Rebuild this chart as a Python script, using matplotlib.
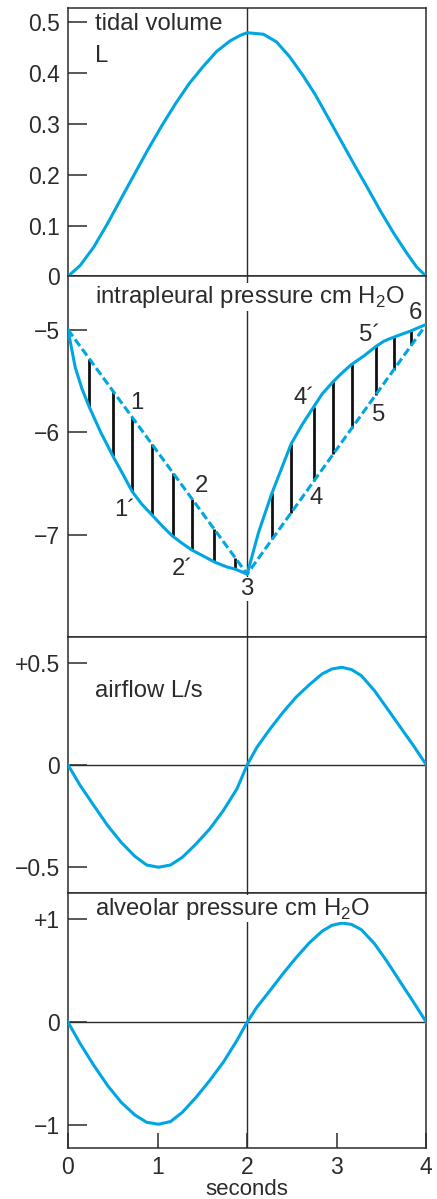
import numpy as np
import matplotlib
matplotlib.use("Agg")
import matplotlib.pyplot as plt

plt.rcParams['font.family'] = ['Liberation Sans', 'DejaVu Sans']
plt.rcParams['mathtext.fontset'] = 'custom'
plt.rcParams['mathtext.rm'] = 'Liberation Sans'
plt.rcParams['axes.unicode_minus'] = True

BLUE = '#00a6e2'
INK = '#2b2b2b'
FS = 16.5     # tick labels
FS_LAB = 17.2  # panel titles

# tidal volume, L
vol_t = [0, 0.137, 0.289, 0.442, 0.593, 0.745, 0.898, 1.050, 1.202, 1.353, 1.506, 1.658, 1.810, 1.925, 2.0,
         2.182, 2.328, 2.473, 2.619, 2.765, 2.910, 3.056, 3.201, 3.347, 3.493, 3.639, 3.785, 3.894, 4.0]
vol_v = [0, 0.0217, 0.058, 0.104, 0.153, 0.202, 0.251, 0.297, 0.340, 0.379, 0.412, 0.442, 0.463, 0.474, 0.479,
         0.476, 0.461, 0.432, 0.396, 0.356, 0.310, 0.264, 0.218, 0.173, 0.127, 0.084, 0.045, 0.018, 0]

# intrapleural pressure, cm H2O
pl_t = [0, 0.080, 0.156, 0.239, 0.365, 0.499, 0.612, 0.716, 0.822, 0.935, 1.050, 1.163, 1.278,
        1.384, 1.506, 1.640, 1.772, 1.868, 2.0,
        2.127, 2.273, 2.491, 2.619, 2.736, 2.838, 2.955, 3.056, 3.165, 3.311, 3.438, 3.529, 3.639, 3.821, 4.0]
pl_p = [-5.0, -5.365, -5.577, -5.757, -6.0, -6.229, -6.408, -6.578, -6.70, -6.805, -6.913, -7.011, -7.086,
        -7.150, -7.206, -7.268, -7.314, -7.336, -7.384,
        -6.978, -6.603, -6.114, -5.919, -5.762, -5.626, -5.512, -5.424, -5.339, -5.251, -5.163, -5.111,
        -5.072, -5.014, -4.948]
# straight reference line (dashed)
ref_t = [0, 2.0, 4.0]
ref_p = [-5.0, -7.384, -4.948]
hatch_t = [0.239, 0.502, 0.716, 0.935, 1.172, 1.384, 1.635, 1.868,
           2.278, 2.489, 2.744, 2.963, 3.168, 3.438, 3.636, 3.833]
pt_labels = ['1', "1\u00b4", '2', "2\u00b4", '3', '4', "4\u00b4", '5', "5\u00b4", '6']
pt_t = [0.765, 0.631, 1.487, 1.278, 2.0, 2.767, 2.639, 3.468, 3.364, 3.883]
pt_p = [-5.717, -6.76, -6.52, -7.33, -7.53, -6.64, -5.67, -5.83, -5.055, -4.84]

# airflow, L/s
flow_t = [0, 0.137, 0.289, 0.442, 0.593, 0.745, 0.878, 1.012, 1.145, 1.278, 1.430, 1.582, 1.734, 1.886, 2.0,
          2.109, 2.256, 2.400, 2.546, 2.692, 2.838, 2.947, 3.056, 3.165, 3.275, 3.421, 3.566, 3.711, 3.857, 4.0]
flow_v = [0, -0.101, -0.199, -0.296, -0.378, -0.446, -0.489, -0.500, -0.489, -0.451, -0.386, -0.313, -0.223,
          -0.117, 0,
          0.086, 0.176, 0.257, 0.331, 0.391, 0.445, 0.469, 0.477, 0.466, 0.436, 0.363, 0.274, 0.184, 0.094, 0]

# alveolar pressure, cm H2O
alv_t = flow_t
alv_p = [0, -0.21, -0.421, -0.616, -0.778, -0.901, -0.973, -0.992, -0.966, -0.875, -0.730, -0.567, -0.389,
         -0.178, 0,
         0.146, 0.308, 0.471, 0.626, 0.769, 0.885, 0.941, 0.963, 0.950, 0.899, 0.763, 0.584, 0.389, 0.195, 0]

fig = plt.figure(figsize=(4.37, 11.99), dpi=100)
gs = fig.add_gridspec(4, 1, height_ratios=[268, 360.7, 255.3, 255], hspace=0,
                      left=68 / 437, right=426.3 / 437, top=1 - 8.3 / 1199, bottom=1 - 1147.7 / 1199)
axes = [fig.add_subplot(gs[i]) for i in range(4)]

for ax in axes:
    ax.set_xlim(0, 4)
    for s in ax.spines.values():
        s.set_color(INK)
        s.set_linewidth(1.1)
    ax.tick_params(axis='y', direction='in', length=14, width=1.1, color=INK,
                   labelsize=FS, labelcolor=INK, pad=6)
    ax.tick_params(axis='x', bottom=False, labelbottom=False)
    ax.axvline(2, color=INK, lw=1.0, zorder=1)

box = dict(facecolor='white', edgecolor='none', pad=0.5)

# tidal volume
ax = axes[0]
ax.plot(vol_t, vol_v, color=BLUE, lw=2.2, zorder=3, solid_joinstyle='round')
ax.set_ylim(0, 0.527)
ax.set_yticks([0, 0.1, 0.2, 0.3, 0.4, 0.5], ['0', '0.1', '0.2', '0.3', '0.4', '0.5'])
ax.text(0.297, 0.497, 'tidal volume', fontsize=FS_LAB, color=INK, va='center')
ax.text(0.297, 0.434, 'L', fontsize=FS_LAB, color=INK, va='center')

# intrapleural pressure
ax = axes[1]
ax.plot(pl_t, pl_p, color=BLUE, lw=2.2, zorder=3, solid_joinstyle='round')
ax.plot(ref_t, ref_p, color=BLUE, lw=2.2, ls=(0, (2.7, 1.2)), zorder=3)
ax.vlines(hatch_t, np.interp(hatch_t, pl_t, pl_p), np.interp(hatch_t, ref_t, ref_p),
          color='#111111', lw=2.0, zorder=2)
ax.set_ylim(-8.0, -4.48)
ax.set_yticks([-7, -6, -5], ['\u22127', '\u22126', '\u22125'])
ax.text(0.297, -4.68, 'intrapleural pressure cm H$_2$O', fontsize=FS_LAB, color=INK,
        va='center', bbox=box, zorder=5)
for lab, t, p in zip(pt_labels, pt_t, pt_p):
    ax.text(t, p, lab, fontsize=FS_LAB, color=INK, ha='center', va='center',
            bbox=box if lab == '3' else None, zorder=5)

# airflow
ax = axes[2]
ax.plot(flow_t, flow_v, color=BLUE, lw=2.2, zorder=3, solid_joinstyle='round')
ax.axhline(0, color=INK, lw=1.0, zorder=1)
ax.set_ylim(-0.624, 0.624)
ax.set_yticks([-0.5, 0, 0.5], ['\u22120.5', '0', '+0.5'])
ax.text(0.297, 0.363, 'airflow L/s', fontsize=FS_LAB, color=INK, va='center')

# alveolar pressure
ax = axes[3]
ax.plot(alv_t, alv_p, color=BLUE, lw=2.2, zorder=3, solid_joinstyle='round')
ax.axhline(0, color=INK, lw=1.0, zorder=1)
ax.set_ylim(-1.22, 1.259)
ax.set_yticks([-1, 0, 1], ['\u22121', '0', '+1'])
ax.text(0.297, 1.103, 'alveolar pressure cm H$_2$O', fontsize=FS_LAB, color=INK,
        va='center', bbox=box, zorder=5)
ax.set_xticks([0, 1, 2, 3, 4])
ax.tick_params(axis='x', bottom=True, labelbottom=True, direction='in', length=11,
               width=1.1, color=INK, labelsize=FS, labelcolor=INK, pad=6)
ax.set_xlabel('seconds', fontsize=16, color=INK, labelpad=0)

fig.savefig('out.png', dpi=100)
